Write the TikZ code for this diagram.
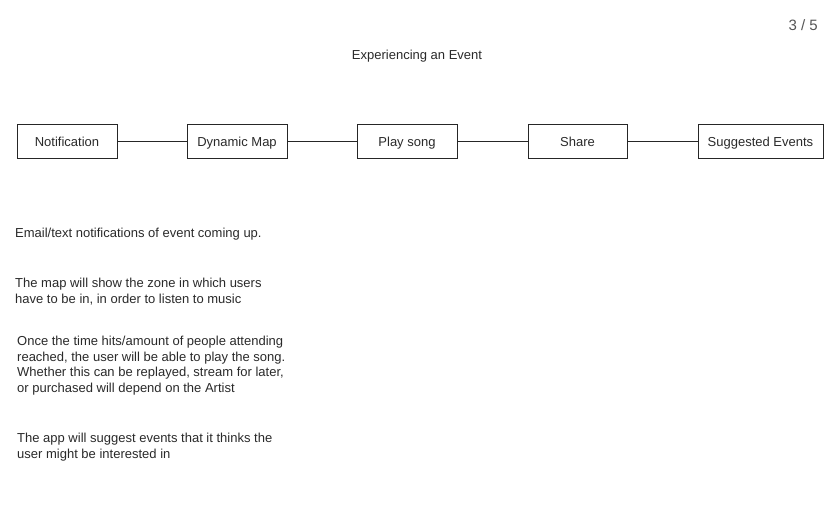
\documentclass[tikz,border=0pt]{standalone}
\usepackage{fontspec}
\setmainfont{Liberation Sans}
\definecolor{txt}{HTML}{2A2A2A}
\definecolor{pg}{HTML}{555555}
\begin{document}
\begin{tikzpicture}[x=1pt,y=-1pt,
  stepbox/.style={draw=black!85,line width=0.9pt,minimum height=34pt,inner sep=0pt,text height=13pt,text depth=2pt,text=txt,font=\fontsize{13}{15.6}\selectfont},
  link/.style={draw=black!85,line width=0.9pt},
  note/.style={anchor=base west,align=left,inner sep=0pt,text=txt,font=\fontsize{13}{15.6}\selectfont}]
\useasboundingbox[fill=white] (0,0) rectangle (839,524);
\node[anchor=base east,inner sep=0pt,text=pg,font=\fontsize{15}{18}\selectfont] (page) at (818,31) {3 / 5};
\node[anchor=base,inner sep=0pt,text=txt,font=\fontsize{13}{15.6}\selectfont] (title) at (417,59.5) {Experiencing an Event};
\node[stepbox,minimum width=100pt] (n1) at (67,141) {Notification};
\node[stepbox,minimum width=100pt] (n2) at (237,141) {Dynamic Map};
\node[stepbox,minimum width=100pt] (n3) at (407,141) {Play song};
\node[stepbox,minimum width=99pt] (n4) at (577.5,141) {Share};
\node[stepbox,minimum width=125pt] (n5) at (760.5,141) {Suggested Events};
\draw[link] (n1) -- (n2);
\draw[link] (n2) -- (n3);
\draw[link] (n3) -- (n4);
\draw[link] (n4) -- (n5);
\node[note] (t1) at (15,237) {Email/text notifications of event coming up.};
\node[note] (t2) at (15,303) {The map will show the zone in which users\\have to be in, in order to listen to music};
\node[note] (t3) at (17,392.5) {Once the time hits/amount of people attending\\reached, the user will be able to play the song.\\Whether this can be replayed, stream for later,\\or purchased will depend on the Artist};
\node[note] (t4) at (17,458) {The app will suggest events that it thinks the\\user might be interested in};
\end{tikzpicture}
\end{document}
